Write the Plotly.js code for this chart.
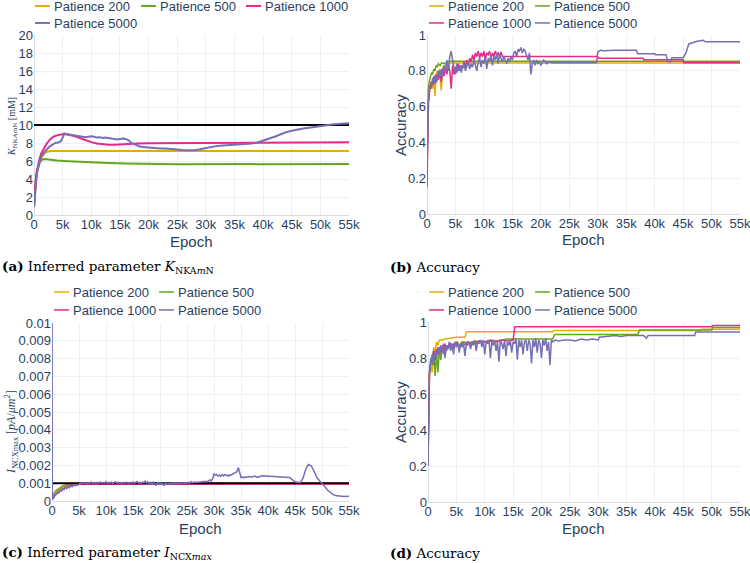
<!DOCTYPE html>
<html>
<head>
<meta charset="utf-8">
<script src="https://cdn.plot.ly/plotly-3.0.1.min.js"></script>
<style>html,body{margin:0;padding:0;background:#fff;}#chart{width:750px;height:563px;}</style>
</head>
<body>
<div id="chart"></div>
<script>
// ---------- DATA ----------
const seriesNames = ['Patience 200', 'Patience 500', 'Patience 1000', 'Patience 5000'];
const trueK = 10;
const trueI = 0.001;
const epochRange = [0, 55000];

// (a) inferred K_NKAmN
const kEpoch200 = [0,150,300,500,750,1000,1300,1600,2000,2500,3000,55000];
const kVal200   = [0.9,2.5,3.7,4.7,5.5,6.0,6.4,6.7,6.95,7.05,7.12,7.12];
const kEpoch500 = [0,150,300,500,750,1000,1300,1700,2200,3000,4000,6000,8000,10000,13000,16000,19000,22000,25000,55000];
const kVal500   = [0.9,2.5,3.7,4.7,5.4,5.85,6.1,6.22,6.2,6.13,6.05,5.97,5.9,5.85,5.78,5.72,5.67,5.64,5.63,5.68];
const kEpoch1000 = [0,150,300,500,750,1000,1300,1700,2200,2800,3400,4000,4600,5200,5800,6500,7200,8000,9000,10000,11000,12000,13000,14000,15000,16000,18000,20000,25000,30000,40000,55000];
const kVal1000   = [0.9,2.6,3.9,4.9,5.7,6.3,6.9,7.4,7.9,8.4,8.7,8.85,8.95,9.0,8.95,8.85,8.75,8.55,8.3,8.1,7.95,7.85,7.8,7.8,7.85,7.9,7.95,7.98,8.0,8.02,8.05,8.08];
const kEpoch5000 = [0,150,300,500,750,1000,1300,1700,2200,2700,3200,3700,4200,4700,5000,5300,5600,6000,6500,7000,7500,8000,8500,9000,9500,10000,10500,11000,11500,12000,12500,13000,13500,14000,14500,15000,15500,16000,16500,17000,17500,18000,18500,19000,20000,21000,22000,23000,24000,25000,26000,27000,28000,29000,30000,31000,32000,33000,34000,35000,36000,37000,38000,39000,40000,41000,42000,43000,44000,45000,46000,47000,48000,49000,50000,51000,52000,53000,54000,55000];
const kVal5000   = [0.9,2.4,3.6,4.6,5.4,6.0,6.5,6.9,7.3,7.6,7.8,8.0,8.05,8.2,8.6,9.05,9.0,8.95,8.9,8.85,8.8,8.7,8.7,8.65,8.7,8.75,8.7,8.6,8.65,8.55,8.6,8.55,8.5,8.45,8.4,8.45,8.5,8.45,8.3,8.0,7.85,7.72,7.62,7.55,7.48,7.43,7.4,7.38,7.3,7.25,7.22,7.2,7.2,7.3,7.45,7.58,7.68,7.72,7.75,7.78,7.82,7.88,7.95,8.05,8.25,8.45,8.7,8.95,9.2,9.35,9.5,9.6,9.7,9.8,9.9,10.0,10.05,10.1,10.15,10.2];

// (b) accuracy
const aEpoch200 = [0,100,250,400,600,800,1000,1200,1400,1600,1800,2000,2200,2500,2800,3100,3500,4000,55000];
const aVal200   = [0.3,0.6,0.66,0.7,0.72,0.74,0.70,0.76,0.66,0.78,0.80,0.77,0.81,0.69,0.82,0.83,0.84,0.843,0.843];
const aEpoch500 = [0,100,250,400,600,800,1000,1200,1400,1600,1800,2000,2300,2600,3000,3500,4000,10000,10500,11000,15000,15500,55000];
const aVal500   = [0.3,0.62,0.7,0.74,0.76,0.79,0.78,0.81,0.80,0.83,0.82,0.84,0.83,0.845,0.84,0.85,0.853,0.853,0.857,0.853,0.853,0.856,0.853];
const aEpoch1000 = [0,100,250,500,750,1000,1250,1500,1750,2000,2250,2500,2750,3000,3250,3500,3750,4000,4250,4500,4750,5000,5250,5500,5750,6000,6250,6500,6750,7000,7250,7500,7750,8000,8250,8500,8750,9000,9250,9500,9750,10000,10250,10500,10750,11000,11250,11500,11750,12000,12250,12500,12750,13000,13250,13500,30000,30100,38000,38100,45000,45100,55000];
const aVal1000   = [0.15,0.45,0.62,0.7,0.74,0.72,0.77,0.73,0.78,0.75,0.80,0.74,0.81,0.77,0.82,0.78,0.84,0.80,0.70,0.83,0.78,0.82,0.79,0.84,0.80,0.83,0.81,0.85,0.82,0.86,0.83,0.87,0.85,0.89,0.86,0.90,0.88,0.91,0.87,0.90,0.88,0.91,0.86,0.90,0.89,0.91,0.87,0.90,0.88,0.91,0.89,0.90,0.88,0.905,0.88,0.88,0.88,0.87,0.87,0.862,0.862,0.845,0.845];
const aEpoch5000 = [0,250,500,750,1000,1250,1500,1750,2000,2250,2500,2750,3000,3250,3500,3750,4000,4250,4500,4750,5000,5250,5500,5750,6000,6250,6500,6750,7000,7250,7500,7750,8000,8250,8500,8750,9000,9250,9500,9750,10000,10250,10500,10750,11000,11250,11500,11750,12000,12250,12500,12750,13000,13250,13500,13750,14000,14250,14500,14750,15000,15250,15500,15750,16000,16250,16500,16750,17000,17250,17500,17750,18000,18250,18500,18750,19000,19250,19500,19750,20000,20500,21000,21500,22000,29800,30000,30500,31000,33000,36800,37000,40000,40200,42000,42300,42800,43000,45000,45500,46000,46800,47500,48500,49000,55000];
const aVal5000   = [0.25,0.62,0.72,0.70,0.76,0.73,0.78,0.74,0.80,0.76,0.81,0.77,0.83,0.79,0.86,0.80,0.88,0.91,0.86,0.82,0.78,0.84,0.80,0.83,0.79,0.82,0.84,0.80,0.83,0.85,0.81,0.84,0.82,0.86,0.83,0.80,0.85,0.87,0.82,0.86,0.84,0.88,0.81,0.87,0.85,0.89,0.83,0.88,0.86,0.90,0.84,0.89,0.87,0.85,0.88,0.86,0.84,0.87,0.85,0.88,0.86,0.90,0.91,0.88,0.92,0.91,0.93,0.90,0.92,0.91,0.89,0.86,0.90,0.78,0.84,0.86,0.83,0.86,0.84,0.85,0.83,0.86,0.84,0.85,0.845,0.845,0.905,0.915,0.912,0.915,0.915,0.895,0.895,0.89,0.89,0.85,0.85,0.873,0.873,0.9,0.95,0.96,0.965,0.97,0.962,0.962];

// (c) inferred I_NCXmax
const iEpoch200 = [0,200,500,800,1200,1600,2000,2500,3000,4000,5000,55000];
const iVal200   = [0.0001,0.0002,0.0004,0.0005,0.0006,0.0007,0.00078,0.00085,0.0009,0.00095,0.00098,0.00099];
const iEpoch500 = [0,200,500,800,1200,1600,2000,2500,3000,4000,5000,18000,19000,20000,55000];
const iVal500   = [0.00012,0.0003,0.0005,0.0006,0.0007,0.0008,0.00085,0.0009,0.00095,0.00098,0.001,0.001,0.00104,0.001,0.001];
const iEpoch1000 = [0,200,500,800,1200,1600,2000,2500,3000,4000,5000,55000];
const iVal1000   = [0.0001,0.00015,0.0003,0.0004,0.0005,0.0006,0.0007,0.00078,0.00085,0.0009,0.00094,0.00096];
const iEpoch5000 = [0,60,250,500,750,1000,1250,1500,1750,2000,2250,2500,2750,3000,3250,3500,3750,4000,4250,4500,4750,5000,5250,5500,5750,6000,6250,6500,6750,7000,7250,7500,7750,8000,8250,8500,8750,9000,9250,9500,9750,10000,10250,10500,10750,11000,11250,11500,11750,12000,12250,12500,12750,13000,13250,13500,13750,14000,14250,14500,14750,15000,15250,15500,15750,16000,16250,16500,16750,17000,17250,17500,17750,18000,18250,18500,18750,19000,19250,19500,19750,20000,20250,20500,20750,21000,21250,21500,21750,22000,22250,22500,22750,23000,23250,23500,23750,24000,24250,24500,24750,25000,25250,25500,25750,26000,26250,26500,26750,27000,27250,27500,27750,28000,28250,28500,28750,29000,29250,29500,29750,30000,30250,30500,30750,31000,31250,31500,31750,32000,32250,32500,32750,33000,33250,33500,33750,34000,34250,34500,34750,35000,35250,35500,35750,36000,36500,37000,37500,38000,38500,39000,39500,40000,41000,42000,43000,44000,44500,45000,45500,46000,46500,47000,47500,48000,48500,49000,49500,50000,50500,51000,51500,52000,52500,53000,54000,55000];
const iVal5000   = [0.0106,0.0001,0.00015,0.0003,0.0004,0.0005,0.00045,0.0006,0.00055,0.0007,0.00065,0.00075,0.0007,0.0008,0.00075,0.00085,0.0008,0.0009,0.00085,0.00092,0.00088,0.00095,0.00101,0.00097,0.00103,0.00099,0.00104,0.00096,0.00102,0.001,0.00106,0.00098,0.00103,0.00101,0.00097,0.00104,0.001,0.00107,0.00099,0.00104,0.00101,0.00109,0.00098,0.00104,0.001,0.00106,0.00097,0.00103,0.00108,0.001,0.00105,0.00099,0.00103,0.00097,0.00104,0.001,0.00106,0.00101,0.00098,0.00104,0.001,0.00107,0.00099,0.00104,0.00109,0.001,0.00105,0.00098,0.00106,0.00102,0.00112,0.001,0.00108,0.00097,0.00104,0.0009,0.00106,0.00099,0.00088,0.00103,0.00096,0.00102,0.00094,0.00099,0.00086,0.00101,0.00097,0.00093,0.001,0.00096,0.00101,0.00098,0.00103,0.00097,0.001,0.00102,0.00098,0.00101,0.00104,0.00099,0.00103,0.00101,0.00105,0.00099,0.00109,0.00102,0.00104,0.00106,0.00103,0.00107,0.00105,0.00108,0.00106,0.0011,0.00107,0.00111,0.00109,0.00114,0.00118,0.00112,0.00125,0.00152,0.00145,0.00148,0.0014,0.00146,0.00138,0.00147,0.00141,0.00149,0.00143,0.00145,0.00139,0.00148,0.00146,0.00152,0.00155,0.00158,0.00165,0.00188,0.0015,0.00132,0.00135,0.0013,0.00136,0.00132,0.00138,0.00135,0.0014,0.00133,0.00138,0.00142,0.00141,0.0014,0.00139,0.00137,0.00135,0.00132,0.0012,0.00108,0.00105,0.00103,0.0013,0.0018,0.00205,0.00198,0.0017,0.00135,0.00115,0.001,0.00082,0.00062,0.00048,0.00037,0.00031,0.00028,0.00025,0.00026];

// (d) accuracy
const dEpoch200 = [0,100,250,500,750,1000,1250,1500,1750,2000,2500,3000,4000,5000,6500,6800,22000,22200,48000,48200,55000];
const dVal200   = [0.3,0.62,0.7,0.76,0.72,0.86,0.82,0.89,0.87,0.9,0.9,0.905,0.91,0.915,0.915,0.946,0.946,0.953,0.953,0.96,0.96];
const dEpoch500 = [0,100,250,500,750,1000,1250,1500,1750,2000,2250,2500,2750,3000,3500,4000,4500,5000,5500,6000,7000,8000,9000,10000,11000,12000,13000,14000,15000,22000,22300,37000,37300,50000,50200,55000];
const dVal500   = [0.25,0.6,0.72,0.8,0.76,0.84,0.70,0.83,0.72,0.85,0.79,0.86,0.82,0.87,0.85,0.88,0.86,0.88,0.87,0.89,0.885,0.89,0.895,0.89,0.9,0.895,0.9,0.905,0.905,0.905,0.93,0.93,0.955,0.955,0.97,0.97];
const dEpoch1000 = [0,100,250,500,750,1000,1250,1500,1750,2000,2250,2500,2750,3000,3250,3500,3750,4000,4250,4500,4750,5000,5500,6000,6500,7000,7500,8000,8500,9000,9500,10000,11000,12000,13000,14000,15000,15300,50000,50200,55000];
const dVal1000   = [0.2,0.6,0.72,0.78,0.8,0.84,0.79,0.85,0.82,0.86,0.83,0.87,0.85,0.88,0.84,0.87,0.86,0.88,0.85,0.88,0.87,0.89,0.86,0.88,0.875,0.89,0.88,0.89,0.88,0.895,0.885,0.89,0.895,0.89,0.9,0.895,0.9,0.974,0.974,0.98,0.98];
const dEpoch5000 = [0,100,250,500,750,1000,1250,1500,1750,2000,2250,2500,2750,3000,3250,3500,3750,4000,4250,4500,4750,5000,5250,5500,5750,6000,6250,6500,6750,7000,7250,7500,7750,8000,8250,8500,8750,9000,9250,9500,9750,10000,10250,10500,10750,11000,11250,11500,11750,12000,12250,12500,12750,13000,13250,13500,13750,14000,14250,14500,14750,15000,15250,15500,15750,16000,16250,16500,16750,17000,17250,17500,17750,18000,18250,18500,18750,19000,19250,19500,19750,20000,20250,20500,20750,21000,21250,21500,21750,22000,22500,23000,24000,25000,26000,27000,28000,29000,30000,30200,31000,32000,33000,34000,35000,36000,38000,38500,38800,47000,47200,55000];
const dVal5000   = [0.2,0.55,0.7,0.78,0.82,0.76,0.84,0.80,0.86,0.82,0.87,0.83,0.88,0.80,0.87,0.85,0.89,0.84,0.88,0.82,0.89,0.86,0.89,0.83,0.88,0.86,0.89,0.81,0.88,0.87,0.89,0.85,0.89,0.87,0.9,0.84,0.89,0.88,0.9,0.86,0.9,0.82,0.89,0.88,0.9,0.8,0.89,0.87,0.9,0.84,0.89,0.78,0.9,0.88,0.85,0.9,0.81,0.89,0.87,0.9,0.83,0.89,0.88,0.91,0.79,0.9,0.86,0.9,0.82,0.89,0.9,0.84,0.9,0.88,0.77,0.9,0.86,0.91,0.83,0.9,0.88,0.8,0.9,0.87,0.91,0.84,0.89,0.76,0.9,0.89,0.9,0.895,0.9,0.9,0.895,0.905,0.9,0.905,0.9,0.915,0.917,0.92,0.925,0.92,0.925,0.925,0.925,0.91,0.925,0.925,0.945,0.945];

// ---------- STYLE ----------
const colors = ['#e6ab02', '#66a61e', '#e7298a', '#7570b3'];
const textColor = '#2a3f5f';
const gridColor = '#eceff3';
const W = 750, H = 563;
function px(x) { return x / W; }
function py(y) { return 1 - y / H; }

// one small legend per entry: [legend id, text start x, row centre y]
const legendSpots = [
  ['legend', 54, 6], ['legend2', 160, 6], ['legend3', 265, 6], ['legend4', 54, 23],
  ['legend5', 448, 6], ['legend6', 554, 6], ['legend7', 448, 23], ['legend8', 554, 23],
  ['legend9', 73, 292], ['legend10', 178, 292], ['legend11', 73, 310], ['legend12', 178, 310],
  ['legend13', 448, 292], ['legend14', 554, 292], ['legend15', 448, 310], ['legend16', 554, 310]
];

function series(x, y, i, xa, ya, spot, w) {
  return {type:'scatter', mode:'lines', x:x, y:y, name:seriesNames[i], xaxis:xa, yaxis:ya,
          legend:legendSpots[spot][0], line:{color:colors[i], width:w}, hoverinfo:'skip'};
}
function refLine(v, xa, ya) {
  return {type:'scatter', mode:'lines', x:epochRange, y:[v, v], xaxis:xa, yaxis:ya,
          showlegend:false, line:{color:'#000', width:2}, hoverinfo:'skip'};
}

const traces = [
  series(kEpoch200, kVal200, 0, 'x', 'y', 0, 2),
  series(kEpoch500, kVal500, 1, 'x', 'y', 1, 2),
  series(kEpoch1000, kVal1000, 2, 'x', 'y', 2, 2),
  refLine(trueK, 'x', 'y'),
  series(kEpoch5000, kVal5000, 3, 'x', 'y', 3, 2),

  series(aEpoch200, aVal200, 0, 'x2', 'y2', 4, 1.5),
  series(aEpoch500, aVal500, 1, 'x2', 'y2', 5, 1.5),
  series(aEpoch1000, aVal1000, 2, 'x2', 'y2', 6, 1.5),
  series(aEpoch5000, aVal5000, 3, 'x2', 'y2', 7, 1.5),

  series(iEpoch200, iVal200, 0, 'x3', 'y3', 8, 1.5),
  series(iEpoch500, iVal500, 1, 'x3', 'y3', 9, 1.5),
  series(iEpoch1000, iVal1000, 2, 'x3', 'y3', 10, 1.5),
  refLine(trueI, 'x3', 'y3'),
  series(iEpoch5000, iVal5000, 3, 'x3', 'y3', 11, 1.5),

  series(dEpoch200, dVal200, 0, 'x4', 'y4', 12, 1.5),
  series(dEpoch500, dVal500, 1, 'x4', 'y4', 13, 1.5),
  series(dEpoch1000, dVal1000, 2, 'x4', 'y4', 14, 1.5),
  series(dEpoch5000, dVal5000, 3, 'x4', 'y4', 15, 1.5)
];

function xAxis(l, r, anchor) {
  return {domain:[px(l), px(r)], anchor:anchor, range:epochRange, dtick:5000, tick0:0,
          showgrid:true, gridcolor:gridColor, zeroline:true, zerolinecolor:'#d9dce1', zerolinewidth:1,
          showline:false, ticks:'', ticklabeloverflow:'allow', tickfont:{size:13, color:textColor}};
}
function yAxis(top, bottom, anchor, range, dtick) {
  return {domain:[py(bottom), py(top)], anchor:anchor, range:range, dtick:dtick, tick0:0,
          showgrid:true, gridcolor:gridColor, zeroline:true, zerolinecolor:'#d9dce1', zerolinewidth:1,
          showline:false, ticks:'', ticklabeloverflow:'allow', tickfont:{size:13, color:textColor}};
}

const layout = {
  width:W, height:H,
  margin:{l:0, r:0, t:0, b:0, autoexpand:false},
  paper_bgcolor:'#fff', plot_bgcolor:'#fff',
  font:{family:'Liberation Sans, Arial, sans-serif', size:13, color:textColor},
  xaxis:  xAxis(34, 349, 'y'),
  yaxis:  yAxis(35, 215, 'x', [0, 20], 2),
  xaxis2: xAxis(427, 740, 'y2'),
  yaxis2: yAxis(35, 214, 'x2', [0, 1], 0.2),
  xaxis3: xAxis(52, 349, 'y3'),
  yaxis3: yAxis(323, 501, 'x3', [0, 0.01], 0.001),
  xaxis4: xAxis(428, 740, 'y4'),
  yaxis4: yAxis(322, 502, 'x4', [0, 1], 0.2),
  annotations: []
};

legendSpots.forEach(function (s) {
  layout[s[0]] = {orientation:'h', x:px(s[1] - 40), y:py(s[2]), xanchor:'left', yanchor:'middle',
                  bgcolor:'rgba(0,0,0,0)', font:{size:13, color:textColor}};
});

function axisTitle(text, x, y, angle, font) {
  return {text:text, x:px(x), y:py(y), xref:'paper', yref:'paper', textangle:angle,
          xanchor:'center', yanchor:'middle', showarrow:false, font:font};
}
const sansTitle = {family:'Liberation Sans, Arial, sans-serif', size:15, color:textColor};
function caption(text, x, y) {
  return {text:text, x:px(x), y:py(y), xref:'paper', yref:'paper', xanchor:'left', yanchor:'middle',
          showarrow:false, font:{family:'DejaVu Serif, serif', size:13.5, color:'#000'}};
}

layout.annotations.push(
  axisTitle('Epoch', 191, 241, 0, sansTitle),
  axisTitle('Epoch', 583, 240, 0, sansTitle),
  axisTitle('Epoch', 200, 528, 0, sansTitle),
  axisTitle('Epoch', 583, 528, 0, sansTitle),
  axisTitle('Accuracy', 400, 125, -90, sansTitle),
  axisTitle('Accuracy', 400, 412, -90, sansTitle),
  axisTitle('<i>K</i><sub>NKAmN</sub> [mM]', 13, 127, -90, {family:'Liberation Serif, serif', size:10, color:textColor}),
  axisTitle('<i>I</i><sub>NCXmax</sub> [<i>pA</i>/<i>μm</i><sup>2</sup>]', 11, 432, -90, {family:'Liberation Serif, serif', size:12, color:textColor}),
  caption('<b>(a)</b> Inferred parameter <i>K</i><sub>NKA<i>m</i>N</sub>', 0, 267),
  caption('<b>(b)</b> Accuracy', 388, 267),
  caption('<b>(c)</b> Inferred parameter <i>I</i><sub>NCX<i>max</i></sub>', 0, 553),
  caption('<b>(d)</b> Accuracy', 388, 553)
);

Plotly.newPlot('chart', traces, layout, {staticPlot:true, displayModeBar:false}).then(function (gd) {
  // shorten the legend line samples so that they sit just before the entry text, as in the reference
  gd.querySelectorAll('.legendlines path').forEach(function (p) { p.setAttribute('d', 'M21,0h15'); });
});
</script>
</body>
</html>
